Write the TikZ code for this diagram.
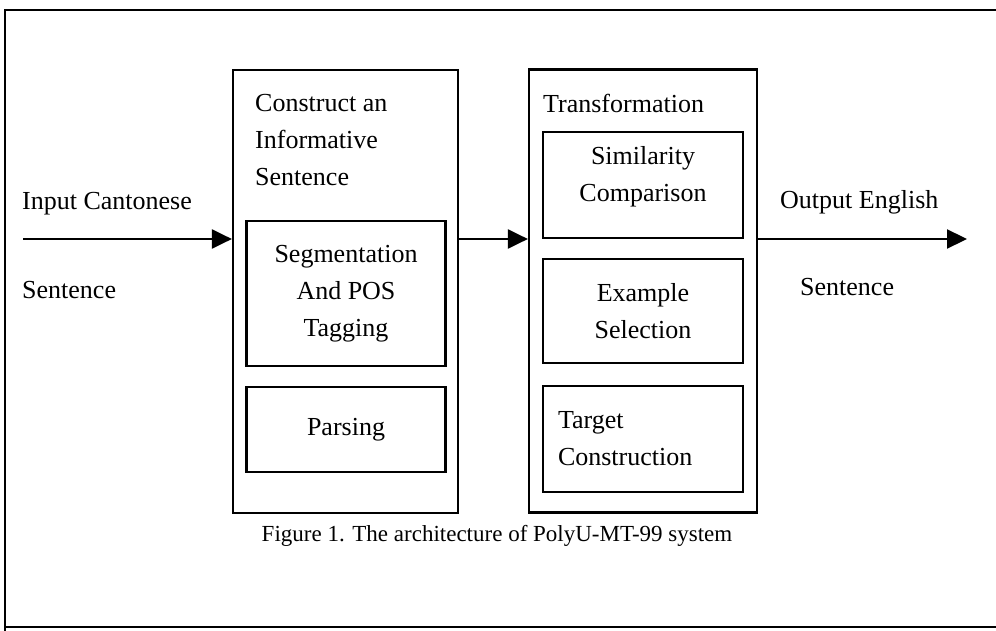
\documentclass[tikz,border=0pt]{standalone}
\usepackage{fontspec}
\setmainfont{Liberation Serif}
\usepackage{tikz}
\usetikzlibrary{calc,arrows.meta,positioning}
\tikzset{
  outerbox/.style={draw, line width=2.2pt, minimum width=225pt, minimum height=443pt},
  innerbox/.style={draw, line width=2.2pt, minimum width=199pt, align=center, font=\fontsize{26}{37}\selectfont},
  label/.style={anchor=west, align=left, inner sep=0pt, font=\fontsize{26}{37}\selectfont},
  flow/.style={line width=2.2pt, -{Triangle[length=20pt,width=19pt]}}
}
\begin{document}
\begin{tikzpicture}[x=1pt,y=-1pt]
    \useasboundingbox (0,0) rectangle (996,631);
    % frame
    \draw[line width=1.6pt] (996,10) -- (5,10) -- (5,631);
    \draw[line width=1.6pt] (5,627) -- (996,627);
    % the two stages
    \node[outerbox] (construct) at (345.5,291.5) {};
    \node[outerbox, minimum width=228pt] (transform) at (643,291) {};
    \node[label] (constructlabel) at (255,140) {Construct an\\Informative\\Sentence};
    \node[label] (transformlabel) at (543,103) {Transformation};
    % steps
    \node[innerbox, minimum height=145pt] (segment) at (346,293.5) {Segmentation\\And POS\\Tagging};
    \node[innerbox, minimum height=85pt] (parse) at (346,429.5) {Parsing};
    \node[innerbox, minimum height=106pt, minimum width=200pt, text depth=22pt] (similar) at (643,185) {Similarity\\Comparison};
    \node[innerbox, minimum height=104pt, minimum width=200pt] (example) at (643,311) {Example\\Selection};
    \node[innerbox, minimum height=106pt, minimum width=200pt, align=left, text width=170pt] (target) at (643,439) {Target\\Construction};
    % input and output
    \coordinate (in) at (23,239);
    \coordinate (out) at (967,239);
    \node[label] (inlabel) at (22,204) {Input Cantonese};
    \node[label] (insent) at (22,290) {Sentence};
    \node[label] (outlabel) at (780,202) {Output English};
    \node[label] (outsent) at (800,287) {Sentence};
    \draw[flow] (in) -- (in -| construct.west);
    \draw[flow] (in -| construct.east) -- (in -| transform.west);
    \draw[flow] (in -| transform.east) -- (out);
    % caption
    \node[font=\fontsize{23}{30}\selectfont] (caption) at (497,536) {Figure 1. The architecture of PolyU-MT-99 system};
\end{tikzpicture}
\end{document}
